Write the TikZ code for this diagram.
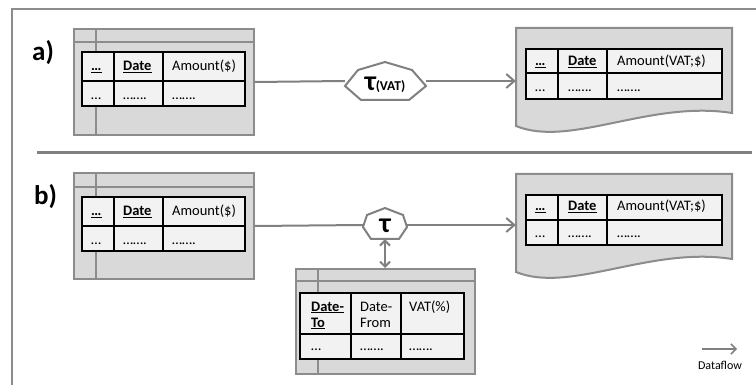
\documentclass[tikz,border=0pt]{standalone}
\usepackage{fontspec}
\setmainfont{Carlito}
\usetikzlibrary{arrows.meta}
\definecolor{lnGray}{HTML}{808080}
\definecolor{boxLine}{HTML}{8C8C8C}
\definecolor{boxFill}{HTML}{D9D9D9}
\definecolor{tblFill}{HTML}{F2F2F2}
\begin{document}
\begin{tikzpicture}[x=1pt,y=-1pt,
  frameline/.style={draw=boxLine, line width=2pt},
  sepline/.style={draw=lnGray, line width=3pt},
  dbbox/.style={draw=boxLine, fill=boxFill, line width=2pt, inner sep=0pt, anchor=north west},
  dbline/.style={draw=boxLine, line width=2pt},
  tbl/.style={draw=black, fill=tblFill, line width=2pt},
  tblline/.style={draw=black, line width=2pt},
  txt/.style={anchor=base west, inner sep=0pt, font=\fontsize{14.5}{16}\selectfont},
  lbl/.style={anchor=base west, inner sep=0pt, font=\fontsize{27}{27}\selectfont\bfseries},
  hole/.style={inner sep=0pt, draw=none},
  conn/.style={draw=lnGray, line width=2pt},
  flow/.style={draw=lnGray, line width=2pt, -{Straight Barb[length=8pt,width=14pt]}},
  lookup/.style={draw=lnGray, line width=2pt, {Straight Barb[length=5pt,width=10pt]}-{Straight Barb[length=5pt,width=10pt]}},
  legend/.style={draw=lnGray, line width=1.5pt, -{Straight Barb[length=5pt,width=10pt]}},
  tauShape/.style={draw=lnGray, fill=white, line width=2pt},
  docShape/.style={draw=boxLine, fill=boxFill, line width=2pt}]
\useasboundingbox (0,0) rectangle (756,385);

% frame and separator
\draw[frameline] (756,9) -- (12,9) -- (12,385);
\draw[sepline] (37,153) -- (752,153);

% labels
\node[lbl] (labA) at (32,61) {a)};
\node[lbl] (labB) at (34,205) {b)};

% ===== panel a =====
\node[dbbox, minimum width=180pt, minimum height=106pt] (srcA) at (73,28) {};
\draw[dbline] (73,42) -- (253,42);
\draw[dbline] (96,28) -- (96,134);
\draw[tbl] (82,52) rectangle (245,106);
\draw[tblline] (82,81) -- (245,81);
\draw[tblline] (114,52) -- (114,106);
\draw[tblline] (163,52) -- (163,106);
\node[txt] (a11) at (91,71) {\underline{\textbf{…}}};
\node[txt] (a12) at (123,71) {\underline{\textbf{Date}}};
\node[txt] (a13) at (172,71) {Amount(\$)};
\node[txt] (a21) at (91,100) {…};
\node[txt] (a22) at (123,100) {…….};
\node[txt] (a23) at (172,100) {…….};

\draw[docShape] (516,28) -- (732,28) -- (732,113) .. controls (650,100) and (570,148) .. (516,126) -- cycle;
\node[hole, minimum width=216pt, minimum height=106pt] (tgtA) at (624,81) {};
\draw[tbl] (526,49) rectangle (722,99);
\draw[tblline] (526,73) -- (722,73);
\draw[tblline] (558,49) -- (558,99);
\draw[tblline] (607,49) -- (607,99);
\node[txt] (c11) at (535,66) {\underline{\textbf{…}}};
\node[txt] (c12) at (568,66) {\underline{\textbf{Date}}};
\node[txt] (c13) at (617,66) {Amount(VAT;\$)};
\node[txt] (c21) at (535,92) {…};
\node[txt] (c22) at (568,92) {…….};
\node[txt] (c23) at (617,92) {…….};

\node[hole, minimum width=81pt, minimum height=38pt] (tauA) at (385.5,81) {};
\draw[conn] (srcA.east) -- (tauA.west);
\draw[flow] (tauA.east) -- (tgtA.west);
\draw[tauShape] (385,62) -- (358,70) -- (345,86) -- (361,100) -- (409,100) -- (426,86) -- (412,70) -- cycle;
\node[inner sep=0pt, anchor=base] (tauAtxt) at (385,91) {\bfseries{\fontsize{28}{28}\selectfont τ}{\fontsize{13.5}{13.5}\selectfont(VAT)}};

% ===== panel b =====
\node[dbbox, minimum width=180pt, minimum height=106pt] (srcB) at (73,172) {};
\draw[dbline] (73,187) -- (253,187);
\draw[dbline] (96,172) -- (96,278);
\draw[tbl] (82,197) rectangle (245,251);
\draw[tblline] (82,226) -- (245,226);
\draw[tblline] (114,197) -- (114,251);
\draw[tblline] (163,197) -- (163,251);
\node[txt] (b11) at (91,216) {\underline{\textbf{…}}};
\node[txt] (b12) at (123,216) {\underline{\textbf{Date}}};
\node[txt] (b13) at (172,216) {Amount(\$)};
\node[txt] (b21) at (91,245) {…};
\node[txt] (b22) at (123,245) {…….};
\node[txt] (b23) at (172,245) {…….};

\draw[docShape] (516,174) -- (732,174) -- (732,259) .. controls (650,246) and (570,294) .. (516,272) -- cycle;
\node[hole, minimum width=216pt, minimum height=106pt] (tgtB) at (624,225) {};
\draw[tbl] (526,195) rectangle (722,245);
\draw[tblline] (526,220) -- (722,220);
\draw[tblline] (558,195) -- (558,245);
\draw[tblline] (607,195) -- (607,245);
\node[txt] (d11) at (535,211) {\underline{\textbf{…}}};
\node[txt] (d12) at (568,211) {\underline{\textbf{Date}}};
\node[txt] (d13) at (617,211) {Amount(VAT;\$)};
\node[txt] (d21) at (535,237) {…};
\node[txt] (d22) at (568,237) {…….};
\node[txt] (d23) at (617,237) {…….};

% lookup table
\node[dbbox, minimum width=179pt, minimum height=105pt] (lkp) at (295,268) {};
\draw[dbline] (295,281) -- (474,281);
\draw[dbline] (318,268) -- (318,373);
\draw[tbl] (300,293) rectangle (464,359);
\draw[tblline] (300,334) -- (464,334);
\draw[tblline] (351,293) -- (351,359);
\draw[tblline] (401,293) -- (401,359);
\node[txt] (e11) at (311,311) {\underline{\textbf{Date-}}};
\node[txt] (e11b) at (311,327) {\underline{\textbf{To}}};
\node[txt] (e12) at (360,311) {Date-};
\node[txt] (e12b) at (360,327) {From};
\node[txt] (e13) at (409,311) {VAT(\%)};
\node[txt] (e21) at (311,350) {…};
\node[txt] (e22) at (360,350) {…….};
\node[txt] (e23) at (409,350) {…….};

\node[hole, minimum width=44pt, minimum height=28pt] (tauB) at (385,225) {};
\draw[conn] (srcB.east) -- (tauB.west);
\draw[flow] (tauB.east) -- (tgtB.west);
\draw[lookup] (tauB.south) -- (tauB.south |- lkp.north);
\draw[tauShape] (385,208) -- (367,215) -- (363,227) -- (371,239) -- (399,239) -- (407,227) -- (403,215) -- cycle;
\node[inner sep=0pt, anchor=base] (tauBtxt) at (385,233) {\bfseries\fontsize{28}{28}\selectfont τ};

% legend
\coordinate (legS) at (702,349);
\coordinate (legE) at (737,349);
\draw[legend] (legS) -- (legE);
\node[inner sep=0pt, font=\fontsize{12}{12}\selectfont] (legT) at (720,365) {Dataflow};
\end{tikzpicture}
\end{document}
